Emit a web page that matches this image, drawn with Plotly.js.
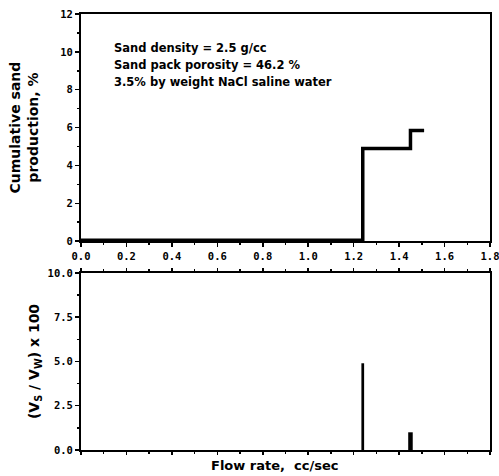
<!DOCTYPE html>
<html><head><meta charset="utf-8">
<script src="https://cdn.plot.ly/plotly-3.0.1.min.js"></script>
<style>html,body{margin:0;padding:0;background:#fff}#chart{width:499px;height:476px}</style>
</head><body><div id="chart"></div>
<script>
// Cumulative sand production (step curve)
var stepFlowRate = [0.0, 1.24, 1.45, 1.51];
var cumulativeSand = [0.05, 4.9, 5.85, 5.85];
// Sand to water volume ratio x 100 (spikes)
var spikeFlowRate = [1.24, 1.45];
var volumeRatio = [4.9, 1.0];
var spikeWidths = [0.012, 0.02];
var notes = ["Sand density = 2.5 g/cc", "Sand pack porosity = 46.2 %", "3.5% by weight NaCl saline water"];
var xTitle = "Flow rate,  cc/sec";

var fontFam = '"DejaVu Sans", "Liberation Sans", Arial, sans-serif';
var monoFam = '"DejaVu Sans Mono", "Liberation Mono", monospace';
var tickFont = {family: monoFam, size: 10.5, color: '#000', weight: 'bold'};
var titleFont = {family: fontFam, size: 14, color: '#000', weight: 'bold'};

var traces = [
  {x: stepFlowRate, y: cumulativeSand, type: 'scatter', mode: 'lines',
   line: {shape: 'hv', color: '#000', width: 3.5}, xaxis: 'x', yaxis: 'y', hoverinfo: 'none'},
  {x: spikeFlowRate, y: volumeRatio, type: 'bar', width: spikeWidths,
   marker: {color: '#000'}, xaxis: 'x2', yaxis: 'y2', hoverinfo: 'none'}
];

var axBase = {showgrid: false, zeroline: false, showline: true, mirror: true,
  linecolor: '#000', linewidth: 2, ticks: 'outside', ticklen: 4, tickwidth: 1.5,
  tickcolor: '#000', tickfont: tickFont, ticklabeloverflow: 'allow'};

var annots = notes.map(function (t, i) {
  return {text: t, xref: 'paper', yref: 'paper', x: 0.077, y: 0.922 - i * 0.039,
    xanchor: 'left', yanchor: 'middle', showarrow: false,
    font: {family: fontFam, size: 11.5, color: '#000', weight: 'bold'}};
});
annots.push({text: xTitle, xref: 'paper', yref: 'paper', x: 0.473, y: -0.035,
  xanchor: 'center', yanchor: 'middle', showarrow: false,
  font: {family: fontFam, size: 13, color: '#000', weight: 'bold'}});

var layout = {
  width: 499, height: 476,
  margin: {l: 81, r: 9, t: 14, b: 26},
  paper_bgcolor: '#fff', plot_bgcolor: '#fff',
  showlegend: false,
  font: {family: fontFam, color: '#000'},
  xaxis: Object.assign({}, axBase, {domain: [0, 1], anchor: 'y', range: [0, 1.8],
    tick0: 0, dtick: 0.2, tickformat: '.1f',
    minor: {dtick: 0.1, ticks: 'outside', ticklen: 2, tickcolor: '#000'}}),
  yaxis: Object.assign({}, axBase, {domain: [0.479, 1], anchor: 'x', range: [0, 12],
    tick0: 0, dtick: 2,
    minor: {dtick: 1, ticks: 'outside', ticklen: 2, tickcolor: '#000'},
    title: {text: 'Cumulative sand<br>production, %', standoff: 18, font: titleFont}}),
  xaxis2: Object.assign({}, axBase, {domain: [0, 1], anchor: 'y2', range: [0, 1.8],
    tick0: 0, dtick: 0.2, showticklabels: false, mirror: 'ticks', ticklen: 3,
    minor: {dtick: 0.1, ticks: 'outside', ticklen: 2, tickcolor: '#000'}}),
  yaxis2: Object.assign({}, axBase, {domain: [0, 0.406], anchor: 'x2', range: [0, 10],
    tick0: 0, dtick: 2.5, tickformat: '.1f',
    minor: {dtick: 1.25, ticks: 'outside', ticklen: 2, tickcolor: '#000'},
    title: {text: '(V<sub>S</sub> / V<sub>W</sub>) x 100', standoff: 5, font: titleFont}}),
  annotations: annots
};

Plotly.newPlot('chart', traces, layout, {displayModeBar: false, staticPlot: true});
</script></body></html>
